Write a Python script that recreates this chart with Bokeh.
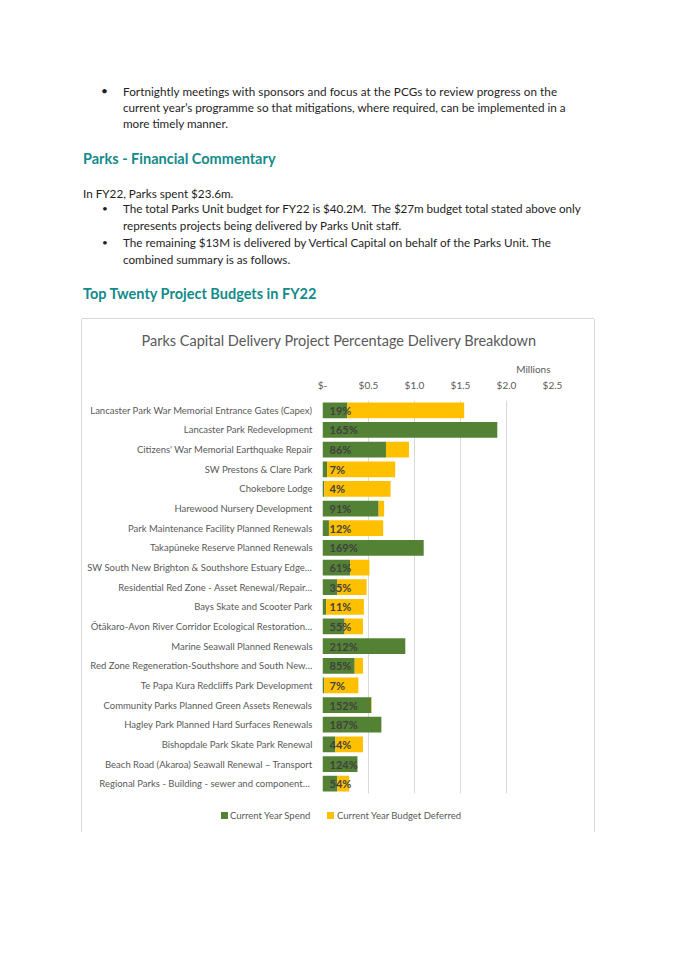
from bokeh.plotting import figure
from bokeh.models import Div, Spacer, ColumnDataSource, FactorRange, Title
from bokeh.layouts import column, row
from bokeh.embed import file_html
from bokeh.resources import INLINE
from bokeh.core.properties import value

# ---------------- data ----------------
projects = [
    "Lancaster Park War Memorial Entrance Gates (Capex)",
    "Lancaster Park Redevelopment",
    "Citizens' War Memorial Earthquake Repair",
    "SW Prestons & Clare Park",
    "Chokebore Lodge",
    "Harewood Nursery Development",
    "Park Maintenance Facility Planned Renewals",
    "Takapūneke Reserve Planned Renewals",
    "SW South New Brighton & Southshore Estuary Edge…",
    "Residential Red Zone - Asset Renewal/Repair…",
    "Bays Skate and Scooter Park",
    "Ōtākaro-Avon River Corridor Ecological Restoration…",
    "Marine Seawall Planned Renewals",
    "Red Zone Regeneration-Southshore and South New…",
    "Te Papa Kura Redcliffs Park Development",
    "Community Parks Planned Green Assets Renewals",
    "Hagley Park Planned Hard Surfaces Renewals",
    "Bishopdale Park Skate Park Renewal",
    "Beach Road (Akaroa) Seawall Renewal – Transport",
    "Regional Parks - Building -  sewer and component…",
]
spend = [0.27, 1.90, 0.69, 0.05, 0.02, 0.61, 0.07, 1.10, 0.30, 0.16,
         0.04, 0.24, 0.90, 0.35, 0.02, 0.53, 0.64, 0.14, 0.38, 0.16]
deferred = [1.27, 0.00, 0.25, 0.74, 0.72, 0.06, 0.59, 0.00, 0.21, 0.32,
            0.41, 0.20, 0.00, 0.09, 0.37, 0.005, 0.00, 0.30, 0.00, 0.13]
pct_labels = ["19%", "165%", "86%", "7%", "4%", "91%", "12%", "169%", "61%", "35%",
              "11%", "55%", "212%", "85%", "7%", "152%", "187%", "44%", "124%", "54%"]
tick_values = [0, 0.5, 1, 1.5, 2, 2.5]
tick_labels = ["$-", "$0.5", "$1.0", "$1.5", "$2.0", "$2.5"]
series_names = ["Current Year Spend", "Current Year Budget Deferred"]
units_label = "Millions"

chart_title = "Parks Capital Delivery Project Percentage Delivery Breakdown"

bullet1 = ["Fortnightly meetings with sponsors and focus at the PCGs to review progress on the",
           "current year\u2019s programme so that mitigations, where required, can be implemented in a",
           "more timely manner."]
heading1 = "Parks - Financial Commentary"
para1 = "In FY22, Parks spent $23.6m."
bullet2 = ["The total Parks Unit budget for FY22 is $40.2M.&nbsp; The $27m budget total stated above only",
           "represents projects being delivered by Parks Unit staff."]
bullet3 = ["The remaining $13M is delivered by Vertical Capital on behalf of the Parks Unit. The",
           "combined summary is as follows."]
heading2 = "Top Twenty Project Budgets in FY22"

GREEN = "#548235"
YELLOW = "#FFC000"
GRAY = "#595959"
TEAL = "#138a8a"
FONT = "Lato"
BORDER = "#d9d9d9"
SERIES_COLORS = [GREEN, YELLOW]

# ---------------- document text ----------------
def line(txt, x, yc, size=11.7, weight="normal", color="#1e1e1e", spacing=0.0):
    return (f'<div style="position:absolute;left:{x}px;top:{yc - 8}px;line-height:16px;'
            f'font-family:{FONT};font-size:{size}px;font-weight:{weight};color:{color};'
            f'letter-spacing:{spacing}px;white-space:nowrap;">{txt}</div>')

DX, DY = 3, 3
parts = []
ys = [82.7, 98.7, 115.3]
sp1 = [0.06, 0.0, 0.0]
for i, t in enumerate(bullet1):
    parts.append(line(t, 115 + DX, ys[i] + DY, spacing=sp1[i]))
parts.append(line("\u2022", 93 + DX, ys[0] + DY, size=12))
parts.append(line(heading1, 75 + DX, 151 + DY, size=14.5, weight="bold", color=TEAL))
parts.append(line(para1, 75 + DX, 185.3 + DY))
ys2 = [200.3, 217]
sp2 = [-0.06, 0.0]
for i, t in enumerate(bullet2):
    parts.append(line(t, 115 + DX, ys2[i] + DY, spacing=sp2[i]))
parts.append(line("\u2022", 94 + DX, ys2[0] + DY, size=10))
ys3 = [234.3, 251.3]
for i, t in enumerate(bullet3):
    parts.append(line(t, 115 + DX, ys3[i] + DY))
parts.append(line("\u2022", 94 + DX, ys3[0] + DY, size=10))
parts.append(line(heading2, 75 + DX, 286 + DY, size=14.5, weight="bold", color=TEAL))

doc = Div(text='<div style="position:relative;width:659px;height:309px;">' + "".join(parts) + "</div>",
          width=659, height=309)

# ---------------- chart ----------------
source = ColumnDataSource(dict(project=projects, spend=spend, deferred=deferred, pct=pct_labels))

p = figure(width=512, height=483, y_range=FactorRange(factors=projects[::-1]), x_range=(0, 2.5),
           output_backend="svg", toolbar_location=None, x_axis_location="above",
           min_border_left=240, min_border_right=42, min_border_top=80, min_border_bottom=9)
p.styles = {"box-shadow": f"-1px 0 0 0 {BORDER}, 1px 0 0 0 {BORDER}, 0 -1px 0 0 {BORDER}"}

rs = p.hbar_stack(["spend", "deferred"], y="project", height=0.8, color=SERIES_COLORS,
                  line_width=0, source=source)

p.text(x=0, y="project", text="pct", source=source, x_offset=7, text_align="left",
       text_baseline="middle", text_font=value(FONT), text_font_style="bold",
       text_font_size="11px", text_color="#404040")

p.title.text = chart_title
p.title.align = "left"
p.title.offset = -181
p.title.text_font = FONT
p.title.text_font_size = "14.5px"
p.title.text_font_style = "normal"
p.title.text_color = GRAY
p.title.standoff = 21

xa = p.xaxis[0]
xa.ticker = tick_values
xa.major_label_overrides = dict(zip(tick_values, tick_labels))
xa.axis_line_color = None
xa.major_tick_line_color = None
xa.minor_tick_line_color = None
xa.major_tick_out = 0
xa.minor_tick_out = 0
xa.major_label_text_font = FONT
xa.major_label_text_font_size = "10px"
xa.major_label_text_color = GRAY
xa.major_label_standoff = 10

units = Title(text=units_label, align="right", offset=2, standoff=2,
              text_font=FONT, text_font_size="10px", text_font_style="normal", text_color=GRAY)
p.add_layout(units, "above")

ya = p.yaxis[0]
ya.axis_line_color = None
ya.major_tick_line_color = None
ya.minor_tick_line_color = None
ya.major_tick_out = 0
ya.minor_tick_out = 0
ya.major_label_text_font = FONT
ya.major_label_text_font_size = "9.5px"
ya.major_label_text_color = GRAY
ya.major_label_standoff = 10

p.xgrid.grid_line_color = BORDER
p.ygrid.visible = False
p.outline_line_color = None
p.y_range.range_padding = 0

# ---------------- legend strip (bottom of the same chart box) ----------------
swatch_x = [139, 245]
label_x = [148, 255]
legend_parts = []
for name, col, sx, lx in zip(series_names, SERIES_COLORS, swatch_x, label_x):
    legend_parts.append(f'<div style="position:absolute;left:{sx}px;top:10px;width:7px;height:7px;'
                        f'background:{col};"></div>')
    legend_parts.append(f'<div style="position:absolute;left:{lx}px;top:6px;line-height:16px;'
                        f'font-family:{FONT};font-size:9.5px;color:{GRAY};white-space:nowrap;">{name}</div>')
legend_div = Div(text='<div style="position:relative;width:512px;height:30px;">' + "".join(legend_parts) + "</div>",
                 width=512, height=30, margin=(0, 0, 0, 0))
legend_div.styles = {"box-shadow": f"-1px 0 0 0 {BORDER}, 1px 0 0 0 {BORDER}"}

layout = column(doc, row(Spacer(width=82, height=513), column(p, legend_div)))

open("out.html", "w").write(file_html(layout, INLINE))
